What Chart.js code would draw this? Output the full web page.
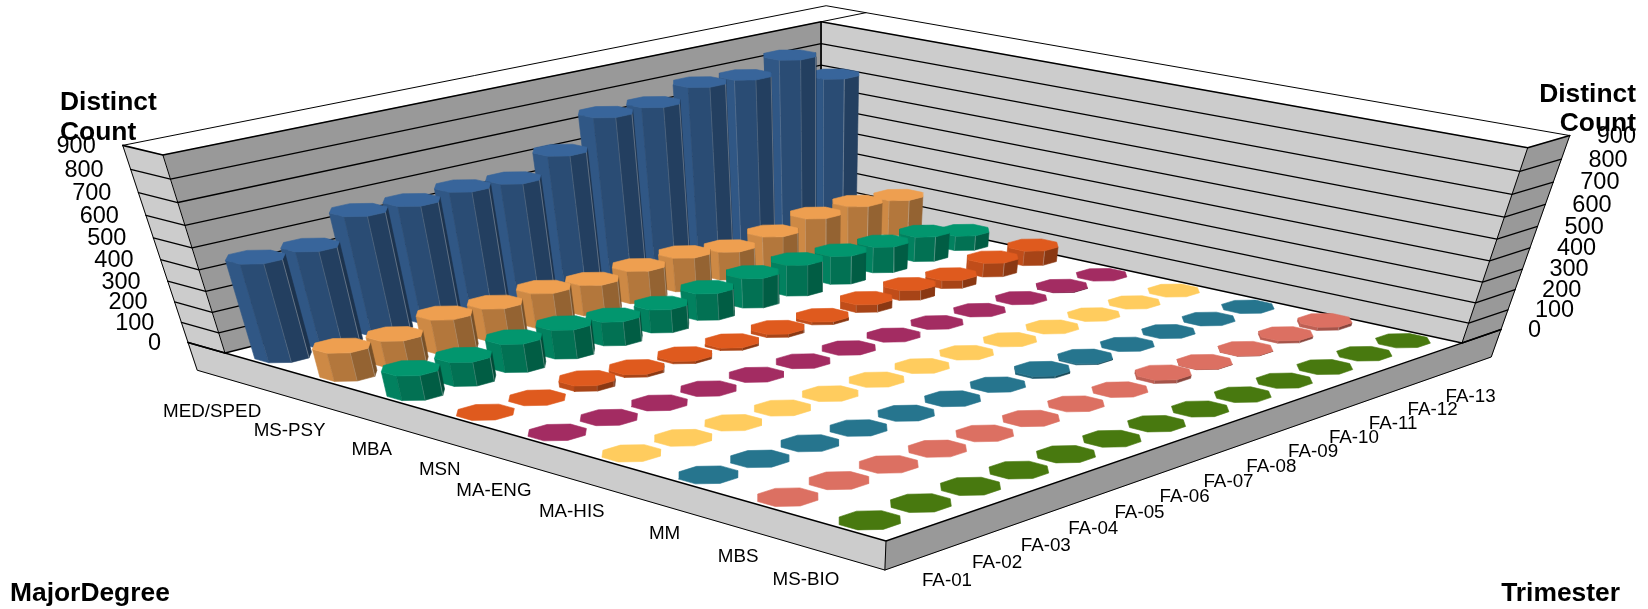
<!DOCTYPE html>
<html>
<head>
<meta charset="utf-8">
<style>html,body{margin:0;padding:0;background:#fff;overflow:hidden}canvas{display:block}</style>
<script src="https://cdn.jsdelivr.net/npm/chart.js@4"></script>
</head>
<body>
<canvas id="c" width="1648" height="609"></canvas>
<script>
const trimesters = ["FA-01","FA-02","FA-03","FA-04","FA-05","FA-06","FA-07","FA-08","FA-09","FA-10","FA-11","FA-12","FA-13"];
const majors = ["MED/SPED","MS-PSY","MBA","MSN","MA-ENG","MA-HIS","MM","MBS","MS-BIO"];
const valueTicks = [0,100,200,300,400,500,600,700,800,900];

const medSped = [469,467,570,562,573,558,635,759,758,803,792,839,709];
const msPsy   = [138,130,168,159,172,152,162,169,142,162,198,205,183];
const mba     = [120,117,138,142,118,115,133,148,155,142,131,126,75];
const msn     = [0,0,27,14,12,12,16,14,39,50,41,70,75];
const maEng   = [0,0,0,0,0,0,0,0,0,0,0,3,0];
const maHis   = [0,0,0,0,0,0,0,0,0,0,0,0,0];
const mm      = [0,0,0,0,0,0,0,10,5,0,0,0,0];
const mbs     = [0,0,0,0,0,0,0,0,16,2,2,12,16];
const msBio   = [0,0,0,0,0,0,0,0,0,0,0,0,0];
const seriesValues = [medSped,msPsy,mba,msn,maEng,maHis,mm,mbs,msBio];
const seriesColors = ["#38659b","#ee9f50","#02966e","#df5a1e","#a32c62","#ffcc5e","#26758e","#dc7062","#48790f"];

/* ---- perspective box: floor corners and the vanishing point of the verticals ---- */
const L={x:225,y:353}, B={x:821,y:204}, R={x:1462,y:343}, F={x:886,y:541};
const VP={x:820,y:2250}, K=-0.0945;
const WALL_U=1.0808, WALL_V=-0.0655, SLAB_H=-0.1576, RADIUS_U=0.44, RADIUS_V=0.285, ROT=22.5*Math.PI/180;
const sx=L.x-B.x+R.x-F.x, sy=L.y-B.y+R.y-F.y;
const d1x=B.x-R.x, d2x=F.x-R.x, d1y=B.y-R.y, d2y=F.y-R.y, den=d1x*d2y-d2x*d1y;
const gU=(sx*d2y-d2x*sy)/den, gV=(d1x*sy-sx*d1y)/den;
const aU=B.x-L.x+gU*B.x, aV=F.x-L.x+gV*F.x, bU=B.y-L.y+gU*B.y, bV=F.y-L.y+gV*F.y;
function project(u,v,h){
  const q=K*h, w=1+gU*u+gV*v+q;
  return {x:(aU*u+aV*v+L.x+q*VP.x)/w, y:(bU*u+bV*v+L.y+q*VP.y)/w};
}
function shade(hex,f){
  const n=parseInt(hex.slice(1),16);
  return "rgb("+[(n>>16)&255,(n>>8)&255,n&255].map(c=>Math.round(c*f)).join(",")+")";
}
const datasets=[];
function poly(pts,color,line){
  datasets.push({data:[...pts,pts[0]],backgroundColor:color,borderColor:line||color,
    borderWidth:line?1:0.6,fill:'shape',borderJoinStyle:'round'});
}
function path(pts,color,width){
  datasets.push({data:pts,borderColor:color,borderWidth:width,fill:false,borderCapStyle:'round',borderJoinStyle:'round'});
}
const P=project, GREY_D="#999999", GREY_L="#cccccc", INK="#000000";

/* slab */
poly([P(0,WALL_V,0),P(0,1,0),P(0,1,SLAB_H),P(0,WALL_V,SLAB_H)],GREY_L);
poly([P(0,1,0),P(WALL_U,1,0),P(WALL_U,1,SLAB_H),P(0,1,SLAB_H)],GREY_D);
path([P(0,WALL_V,0),P(0,WALL_V,SLAB_H),P(0,1,SLAB_H),P(WALL_U,1,SLAB_H),P(WALL_U,1,0)],INK,1);
path([P(0,1,0),P(0,1,SLAB_H)],INK,1);
/* walls */
poly([P(0,0,0),P(1,0,0),P(1,0,1),P(0,0,1)],GREY_D);
poly([P(1,0,0),P(1,1,0),P(1,1,1),P(1,0,1)],GREY_L);
poly([P(0,WALL_V,0),P(0,0,0),P(0,0,1),P(0,WALL_V,1)],GREY_L);
poly([P(1,1,0),P(WALL_U,1,0),P(WALL_U,1,1),P(1,1,1)],GREY_D);
poly([P(0,0,0),P(1,0,0),P(1,1,0),P(0,1,0)],"#ffffff");
valueTicks.forEach(t=>{
  const h=t/900;
  path([P(0,WALL_V,h),P(0,0,h),P(1,0,h),P(1,1,h),P(WALL_U,1,h)],INK,t===0||t===900?1.6:1.3);
});
path([P(0,WALL_V,1),P(WALL_U,WALL_V,1),P(WALL_U,1,1)],INK,1);
path([P(0,WALL_V,1),P(0,WALL_V,0)],INK,1);
path([P(0,0,1),P(0,0,0)],INK,1);
path([P(1,0,1),P(1,0,0)],INK,1);
path([P(1,1,1),P(1,1,0)],INK,1);
path([P(WALL_U,1,1),P(WALL_U,1,0)],INK,1);
path([P(1,0,1),P(WALL_U,0,1)],INK,1);
path([P(0,WALL_V,0),P(0,1,0),P(WALL_U,1,0)],INK,1.4);

/* cylinders, back to front */
seriesValues.forEach((vals,r)=>{
  const v0=(r+.5)/majors.length, base=seriesColors[r];
  const du=RADIUS_U/trimesters.length, dv=RADIUS_V/majors.length;
  for(let c=trimesters.length-1;c>=0;c--){
    const u0=(c+.5)/trimesters.length, h=vals[c]/900;
    const ang=[...Array(8).keys()].map(i=>ROT+i*Math.PI/4);
    const bot=ang.map(a=>P(u0+du*Math.cos(a),v0+dv*Math.sin(a),0));
    const top=ang.map(a=>P(u0+du*Math.cos(a),v0+dv*Math.sin(a),h));
    if(h>0){
      let area=0;
      bot.forEach((p,i)=>{const q=bot[(i+1)%8];area+=p.x*q.y-q.x*p.y;});
      const sign=area>0?1:-1;
      const faces=[];
      bot.forEach((p,i)=>{
        const q=bot[(i+1)%8], ex=q.x-p.x, ey=q.y-p.y, len=Math.hypot(ex,ey);
        const nx=sign*ey/len, ny=-sign*ex/len;
        if(ny>-0.05) faces.push({i,nx});
      });
      faces.sort((a,b)=>a.nx-b.nx);
      faces.forEach(f=>{
        const j=(f.i+1)%8;
        const tone=f.nx<-0.12?0.86:f.nx>0.7?0.5:f.nx>0.12?0.62:0.75;
        poly([bot[f.i],bot[j],top[j],top[f.i]],shade(base,tone));
      });
      faces.slice(1).forEach(f=>{
        const a=faces.find(o=>(o.i+1)%8===f.i)?f.i:(f.i+1)%8;
        path([bot[a],top[a]],"rgba(255,255,255,0.2)",0.8);
      });
    }
    poly(top,base);
  }
});
datasets.reverse();

const FONT='"Liberation Sans", Arial, sans-serif';
const textPlugin={
  id:'boxText',
  afterDatasetsDraw(chart){
    const ctx=chart.ctx, X=chart.scales.x, Y=chart.scales.y;
    const put=(s,x,y,align,font,color)=>{
      ctx.font=font; ctx.textAlign=align; ctx.textBaseline='middle'; ctx.fillStyle=color||'#000';
      ctx.fillText(s,X.getPixelForValue(x),Y.getPixelForValue(y));
    };
    ctx.save();
    majors.forEach((m,r)=>{
      const p=P(0,(r+.5)/majors.length,SLAB_H);
      put(m,p.x-4,p.y+22,'right','18.8px '+FONT);
    });
    trimesters.forEach((t,c)=>{
      const p=P((c+.5)/trimesters.length,1,SLAB_H);
      put(t,p.x+11.5,p.y+19.5,'left','18.8px '+FONT);
    });
    valueTicks.forEach(t=>{
      const a=P(0,WALL_V,t/900), b=P(WALL_U,1,t/900);
      put(String(t),a.x-27,a.y+1,'right','23.5px '+FONT);
      put(String(t),b.x+27,b.y+1,'left','23.5px '+FONT);
    });
    const bold='bold 26.4px '+FONT;
    put('Distinct',60,103,'left',bold);
    put('Count',60,133,'left',bold);
    put('Distinct',1636,95,'right',bold);
    put('Count',1636,124,'right',bold);
    put('MajorDegree',10,594,'left',bold);
    put('Trimester',1620,594,'right',bold);
    ctx.restore();
  }
};

new Chart(document.getElementById('c'),{
  type:'scatter',
  data:{datasets:datasets.map(d=>Object.assign({showLine:true,pointRadius:0,pointHoverRadius:0,tension:0,clip:false},d))},
  options:{
    responsive:false,animation:false,devicePixelRatio:1,events:[],
    layout:{padding:0},
    scales:{
      x:{type:'linear',min:0,max:1648,display:false},
      y:{type:'linear',min:0,max:609,reverse:true,display:false}
    },
    plugins:{legend:{display:false},tooltip:{enabled:false},title:{display:false},
      filler:{propagate:false,drawTime:'beforeDatasetDraw'}}
  },
  plugins:[textPlugin]
});
</script>
</body>
</html>
